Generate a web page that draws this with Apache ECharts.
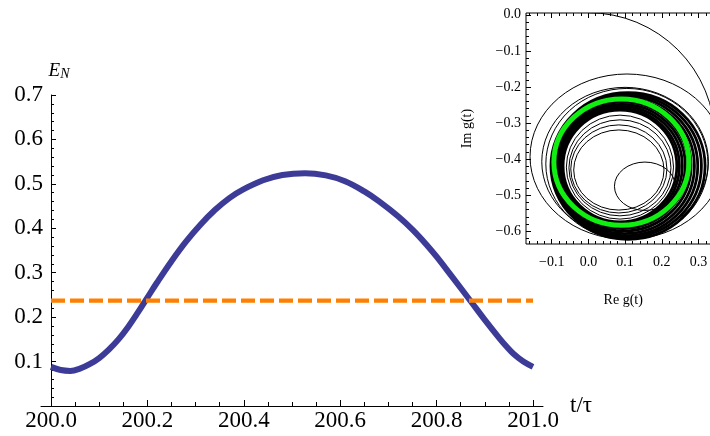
<!DOCTYPE html>
<html>
<head>
<meta charset="utf-8">
<title>E_N and g(t)</title>
<script src="https://cdn.jsdelivr.net/npm/echarts@6/dist/echarts.min.js"></script>
<style>
  html, body { margin: 0; padding: 0; background: #fff; }
  #chart { width: 710px; height: 436px; }
</style>
</head>
<body>
<div id="chart"></div>
<script>
// main plot, E_N over one drive period
const tValues = [200.00, 200.02, 200.04, 200.06, 200.08, 200.10, 200.12, 200.14, 200.16, 200.18,
  200.20, 200.22, 200.25, 200.28, 200.31, 200.34, 200.37, 200.40, 200.44, 200.48, 200.527,
  200.57, 200.61, 200.65, 200.68, 200.72, 200.75, 200.78, 200.80, 200.83, 200.87, 200.90,
  200.93, 200.945, 200.96, 200.98, 201.00]
const enValues = [0.088, 0.081, 0.079, 0.084, 0.094, 0.108, 0.127, 0.150, 0.178, 0.210,
  0.244, 0.278, 0.326, 0.370, 0.408, 0.441, 0.468, 0.488, 0.508, 0.520, 0.524,
  0.519, 0.506, 0.483, 0.461, 0.427, 0.397, 0.362, 0.336, 0.294, 0.237, 0.194,
  0.153, 0.134, 0.117, 0.100, 0.088]
const levelT = [200, 201]
const levelValue = 0.237

// inset ticks
const reMajorTicks = [-0.1, 0, 0.1, 0.2, 0.3]
const reMinorTicks = [-0.16, -0.14, -0.12, -0.08, -0.06, -0.04, -0.02, 0.02, 0.04, 0.06, 0.08,
  0.12, 0.14, 0.16, 0.18, 0.22, 0.24, 0.26, 0.28, 0.32, 0.34]
const imMajorTicks = [0, -0.1, -0.2, -0.3, -0.4, -0.5, -0.6]
const imMinorTicks = [-0.02, -0.04, -0.06, -0.08, -0.12, -0.14, -0.16, -0.18, -0.22, -0.24,
  -0.26, -0.28, -0.32, -0.34, -0.36, -0.38, -0.42, -0.44, -0.46, -0.48, -0.52, -0.54,
  -0.56, -0.58, -0.62]

// inset trajectory g(t), read off as loops
// arc: centre Re, centre Im, radius, from angle, to angle (deg)
const firstArc = [[0.0, -0.345, 0.345, 90, -5]]
// loops: centre Re, centre Im, half width, half height
const outerLoops = [
  [0.105, -0.393, 0.264, 0.229],
  [0.100, -0.407, 0.227, 0.206],
  [0.105, -0.413, 0.221, 0.209]
]
const denseLoops = [
  [0.086, -0.419, 0.155, 0.155],
  [0.088, -0.419, 0.160, 0.159],
  [0.090, -0.418, 0.166, 0.164],
  [0.092, -0.417, 0.172, 0.169],
  [0.094, -0.417, 0.178, 0.175],
  [0.096, -0.418, 0.184, 0.181],
  [0.099, -0.419, 0.190, 0.187],
  [0.102, -0.419, 0.196, 0.193],
  [0.105, -0.419, 0.203, 0.198],
  [0.108, -0.419, 0.210, 0.203]
]
const innerLoops = [
  [0.083, -0.430, 0.123, 0.111],
  [0.083, -0.427, 0.131, 0.122],
  [0.086, -0.424, 0.139, 0.133],
  [0.086, -0.422, 0.146, 0.144]
]
const smallLoop = [[0.154, -0.475, 0.083, 0.067]]
const limitCycle = [[0.090, -0.408, 0.184, 0.175]]

const serif = 'Liberation Serif'

function minusLabel(v) {
  if (Math.abs(v) < 1e-9) return '0.0'
  return (v < 0 ? '\u2212' : '') + Math.abs(v).toFixed(1)
}

// ellipse through the inset axes
function loopRenderer(width, color) {
  return function (params, api) {
    const c = api.coord([api.value(0), api.value(1)])
    const s = api.size([api.value(2), api.value(3)])
    const rx = Math.abs(s[0])
    const ry = Math.abs(s[1])
    const d = 'M' + (c[0] - rx) + ' ' + c[1] +
      ' A' + rx + ' ' + ry + ' 0 1 0 ' + (c[0] + rx) + ' ' + c[1] +
      ' A' + rx + ' ' + ry + ' 0 1 0 ' + (c[0] - rx) + ' ' + c[1] + ' Z'
    return {
      type: 'path',
      shape: { pathData: d },
      style: { fill: 'none', stroke: color, lineWidth: width }
    }
  }
}

function arcRenderer(params, api) {
  const c = api.coord([api.value(0), api.value(1)])
  const r = Math.abs(api.size([api.value(2), api.value(2)])[0])
  return {
    type: 'arc',
    shape: {
      cx: c[0], cy: c[1], r: r,
      startAngle: -api.value(3) * Math.PI / 180,
      endAngle: -api.value(4) * Math.PI / 180,
      clockwise: true
    },
    style: { fill: 'none', stroke: '#000', lineWidth: 1 }
  }
}

function insetSeries(data, renderItem) {
  return {
    type: 'custom',
    xAxisIndex: 2,
    yAxisIndex: 2,
    clip: true,
    silent: true,
    renderItem: renderItem,
    encode: { x: 0, y: 1 },
    data: data
  }
}

const hidden = { show: false }
const noLine = { show: false, onZero: false }
const insetRect = { left: 526, top: 13, width: 194.5, height: 231 }

const chart = echarts.init(document.getElementById('chart'))
chart.setOption({
  animation: false,
  backgroundColor: '#fff',
  grid: [
    { left: 51, top: 95, width: 482, height: 311, outerBoundsMode: 'none' },
    { left: 41, top: 95, width: 502, height: 311, outerBoundsMode: 'none' },
    Object.assign({ show: true, backgroundColor: '#fff', borderColor: '#000', borderWidth: 1, outerBoundsMode: 'none' }, insetRect),
    Object.assign({ outerBoundsMode: 'none' }, insetRect)
  ],
  xAxis: [{
    gridIndex: 0,
    type: 'value',
    min: 200,
    max: 201,
    interval: 0.2,
    axisLine: { onZero: false, lineStyle: { color: '#000', width: 1 } },
    axisTick: { inside: true, length: 6, lineStyle: { color: '#000' } },
    minorTick: { show: true, splitNumber: 4, length: 4, lineStyle: { color: '#000' } },
    splitLine: hidden,
    axisLabel: {
      fontFamily: serif, fontSize: 23, color: '#000', margin: 3,
      formatter: v => v.toFixed(1)
    }
  }, {
    // axis line runs a little past both ends
    gridIndex: 1,
    type: 'value',
    min: 0,
    max: 1,
    axisLine: { onZero: false, lineStyle: { color: '#000', width: 1 } },
    axisTick: hidden,
    axisLabel: hidden,
    splitLine: hidden,
    name: 't/\u03c4',
    nameLocation: 'end',
    nameGap: 27,
    nameMoveOverlap: false,
    nameTextStyle: { fontFamily: serif, fontSize: 23, color: '#000', padding: [0, 0, 12, 0] }
  }, {
    gridIndex: 2,
    type: 'value',
    position: 'bottom',
    min: -0.17,
    max: 0.36,
    axisLine: noLine,
    axisTick: { inside: true, length: 5, customValues: reMajorTicks, lineStyle: { color: '#000' } },
    axisLabel: {
      customValues: reMajorTicks, fontFamily: serif, fontSize: 14, color: '#000', margin: 11,
      formatter: minusLabel
    },
    splitLine: hidden,
    name: 'Re g(t)',
    nameLocation: 'middle',
    nameGap: 49,
    nameMoveOverlap: false,
    nameTextStyle: { fontFamily: serif, fontSize: 14, color: '#000' }
  }, {
    gridIndex: 2,
    type: 'value',
    position: 'top',
    min: -0.17,
    max: 0.36,
    axisLine: noLine,
    axisTick: { inside: true, length: 5, customValues: reMajorTicks, lineStyle: { color: '#000' } },
    axisLabel: hidden,
    splitLine: hidden
  }, {
    gridIndex: 3,
    type: 'value',
    position: 'bottom',
    min: -0.17,
    max: 0.36,
    axisLine: noLine,
    axisTick: { inside: true, length: 3, customValues: reMinorTicks, lineStyle: { color: '#000' } },
    axisLabel: hidden,
    splitLine: hidden
  }, {
    gridIndex: 3,
    type: 'value',
    position: 'top',
    min: -0.17,
    max: 0.36,
    axisLine: noLine,
    axisTick: { inside: true, length: 3, customValues: reMinorTicks, lineStyle: { color: '#000' } },
    axisLabel: hidden,
    splitLine: hidden
  }],
  yAxis: [{
    gridIndex: 0,
    type: 'value',
    min: 0,
    max: 0.7,
    interval: 0.1,
    axisLine: { show: true, onZero: false, lineStyle: { color: '#000', width: 1 } },
    axisTick: { show: true, inside: true, length: 5, lineStyle: { color: '#000' } },
    minorTick: { show: true, splitNumber: 5, length: 3, lineStyle: { color: '#000' } },
    splitLine: hidden,
    axisLabel: {
      fontFamily: serif, fontSize: 23, color: '#000', margin: 8,
      formatter: v => (v === 0 ? '' : v.toFixed(1))
    },
    name: '{e|E}{n|N}',
    nameLocation: 'end',
    nameGap: 14,
    nameMoveOverlap: false,
    nameTextStyle: {
      align: 'center',
      padding: [0, 0, 0, 16],
      rich: {
        e: { fontFamily: serif, fontStyle: 'italic', fontSize: 19, color: '#000' },
        n: { fontFamily: serif, fontStyle: 'italic', fontSize: 14, color: '#000', padding: [6, 0, 0, 0] }
      }
    }
  }, {
    gridIndex: 1,
    type: 'value',
    min: 0,
    max: 0.7,
    show: false
  }, {
    gridIndex: 2,
    type: 'value',
    position: 'left',
    min: -0.635,
    max: 0.005,
    axisLine: noLine,
    axisTick: { show: true, inside: true, length: 5, customValues: imMajorTicks, lineStyle: { color: '#000' } },
    axisLabel: {
      customValues: imMajorTicks, fontFamily: serif, fontSize: 14, color: '#000', margin: 5,
      formatter: minusLabel
    },
    splitLine: hidden,
    name: 'Im g(t)',
    nameLocation: 'middle',
    nameRotate: 90,
    nameGap: 52,
    nameMoveOverlap: false,
    nameTextStyle: { fontFamily: serif, fontSize: 14, color: '#000' }
  }, {
    gridIndex: 3,
    type: 'value',
    position: 'left',
    min: -0.635,
    max: 0.005,
    axisLine: noLine,
    axisTick: { show: true, inside: true, length: 3, customValues: imMinorTicks, lineStyle: { color: '#000' } },
    axisLabel: hidden,
    splitLine: hidden
  }],
  series: [
    {
      name: 'E_N',
      type: 'line',
      xAxisIndex: 0,
      yAxisIndex: 0,
      data: tValues.map((t, i) => [t, enValues[i]]),
      smooth: 0.4,
      symbol: 'none',
      lineStyle: { color: '#3c3c98', width: 6 },
      z: 3
    },
    {
      name: 'level',
      type: 'line',
      xAxisIndex: 0,
      yAxisIndex: 0,
      data: levelT.map(t => [t, levelValue]),
      symbol: 'none',
      lineStyle: { color: '#ff8000', width: 4.3, type: [14, 5], cap: 'butt' },
      z: 4
    },
    insetSeries(firstArc, arcRenderer),
    insetSeries(outerLoops, loopRenderer(1, '#000')),
    insetSeries(innerLoops, loopRenderer(1, '#000')),
    insetSeries(smallLoop, loopRenderer(1, '#000')),
    insetSeries(denseLoops, loopRenderer(2.8, '#000')),
    insetSeries(limitCycle, loopRenderer(5, '#11ee11'))
  ]
})
</script>
</body>
</html>
